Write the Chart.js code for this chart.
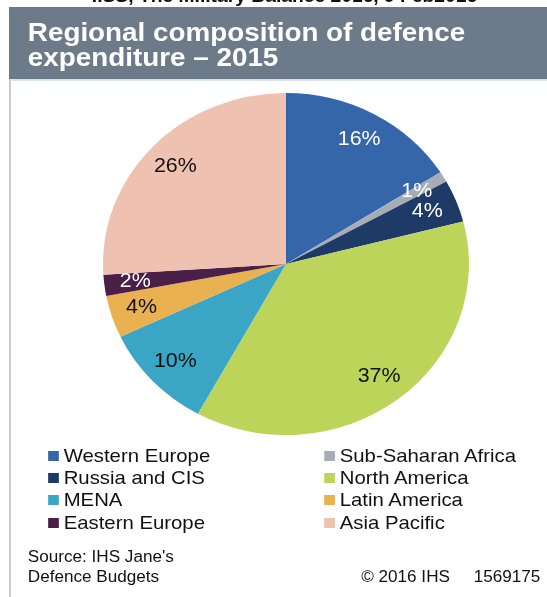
<!DOCTYPE html>
<html>
<head>
<meta charset="utf-8">
<script src="https://cdn.jsdelivr.net/npm/chart.js@4.4.1/dist/chart.umd.min.js"></script>
<style>
  html, body { margin:0; padding:0; width:547px; height:597px; overflow:hidden; background:#fff;
    font-family:"Liberation Sans", Arial, sans-serif; }
  #cabecalho { position:absolute; left:9px; top:7px; width:538px; height:72px; background:#6d7a8a; }
  #painel { position:absolute; left:9px; top:79px; width:538px; height:518px; box-sizing:border-box;
    border-left:2px solid #c5ccd6; border-top:2px solid #dde2e8; }
  #pizza { position:absolute; left:25px; top:90px; }
  /* texts are drawn slightly wide, like the pie */
  #textos { position:absolute; left:0; top:0; width:511px; height:597px; transform:scaleX(1.07); transform-origin:0 0; }
  #fonteTopo { position:absolute; right:65px; top:-13px; font-size:18px; line-height:18px; font-weight:bold; color:#111; white-space:nowrap; }
  #titulo { position:absolute; left:26px; top:20px; font-size:26px; line-height:25px; font-weight:bold; color:#fff; white-space:nowrap; }
  .item { position:absolute; display:flex; align-items:center; font-size:19px; line-height:22.2px; color:#111; white-space:nowrap; }
  .quadrado { width:9.5px; height:10px; margin-right:5px; }
  .rodape { position:absolute; font-size:16px; line-height:20px; color:#111; white-space:pre; }
</style>
</head>
<body>
<div id="cabecalho"></div>
<div id="painel"></div>
<canvas id="pizza" width="522" height="348"></canvas>
<div id="textos">
  <div id="fonteTopo">IISS, The Military Balance 2016, 9 Feb2016</div>
  <div id="titulo">Regional composition of defence<br>expenditure – 2015</div>
  <div id="legenda"></div>
  <div class="rodape" style="left:26px; top:547px;">Source: IHS Jane's<br>Defence Budgets</div>
  <div class="rodape" style="right:6px; top:567px;">© 2016 IHS     1569175</div>
</div>
<script>
const regioes = ['Western Europe', 'Sub-Saharan Africa', 'Russia and CIS', 'North America',
                 'MENA', 'Latin America', 'Eastern Europe', 'Asia Pacific'];
const percentuais = [16, 1, 4, 37, 10, 4, 2, 26];
const cores = ['#3466a9', '#a7adb4', '#1d3b66', '#bdd45a', '#3aa5c5', '#e9b150', '#4a1f48', '#efc1b0'];
const corRotulo = ['#fff', '#fff', '#fff', '#111', '#111', '#111', '#fff', '#111'];

const ESTICA = 1.07;

// legenda em duas colunas, na mesma ordem dos dados
let legenda = document.getElementById('legenda');
let html = '';
regioes.forEach(function(nome, i) {
  let x = i % 2 === 0 ? 45 : 303;
  let y = 445 + Math.floor(i / 2) * 22.2;
  html += `<div class="item" style="left:${x}px; top:${y}px;">
    <span class="quadrado" style="background:${cores[i]}"></span>${nome}</div>`;
});
legenda.innerHTML = html;

// pizza um pouco mais larga que alta, com os percentuais por cima
const esticaPizza = {
  id: 'esticaPizza',
  beforeDatasetsDraw(chart) {
    const arc = chart.getDatasetMeta(0).data[0];
    const ctx = chart.ctx;
    ctx.save();
    ctx.translate(arc.x, arc.y);
    ctx.scale(ESTICA, 1);
    ctx.translate(-arc.x, -arc.y);
  },
  afterDatasetsDraw(chart) {
    const ctx = chart.ctx;
    ctx.font = '20px "Liberation Sans", Arial, sans-serif';
    ctx.textAlign = 'center';
    ctx.textBaseline = 'middle';
    chart.getDatasetMeta(0).data.forEach(function(arc, i) {
      const meio = (arc.startAngle + arc.endAngle) / 2;
      const r = arc.outerRadius * 0.83;
      ctx.fillStyle = corRotulo[i];
      ctx.fillText(percentuais[i] + '%', arc.x + Math.cos(meio) * r, arc.y + Math.sin(meio) * r);
    });
    ctx.restore();
  }
};

new Chart(document.getElementById('pizza'), {
  type: 'pie',
  data: {
    labels: regioes,
    datasets: [{
      data: percentuais,
      backgroundColor: cores,
      borderWidth: 0
    }]
  },
  options: {
    responsive: false,
    animation: false,
    layout: { padding: 3 },
    plugins: {
      legend: { display: false },
      tooltip: { enabled: false }
    }
  },
  plugins: [esticaPizza]
});
</script>
</body>
</html>
